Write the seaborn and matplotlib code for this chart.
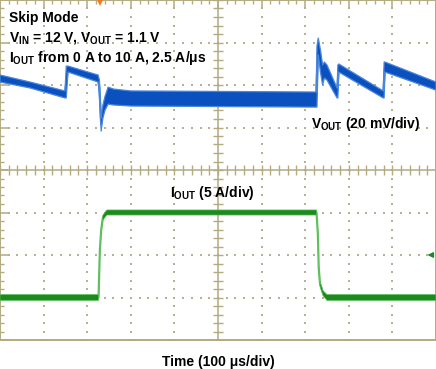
import numpy as np
import pandas as pd
import matplotlib
matplotlib.use("Agg")
import matplotlib.pyplot as plt
import seaborn as sns

# VOUT trace envelope (AC coupled, mV away from 1.1 V), time in microseconds
vout_t = [0, 69, 149, 152, 156, 225, 228, 232, 236, 241, 248, 260, 300, 725, 727,
          730, 735, 740, 744, 750, 773, 775, 777, 879, 881, 883, 1000]
vout_hi = [11.3, 8.0, 3.8, 15.5, 15.5, 11.3, 8.9, -8.9, -2.8, 1.4, 5.6, 4.7, 3.8, 3.3, 25.0,
           28.7, 23.1, 16.0, 17.4, 16.0, 5.2, 16.0, 16.5, 3.8, 17.4, 17.4, 8.0]
vout_lo = [8.0, 5.2, 0.5, 0.5, 12.7, 8.0, 1.9, -15.1, -8.9, -5.2, -2.4, -2.8, -3.3, -3.8, -3.8,
           20.7, 12.7, 6.6, 9.9, 8.9, 0.5, 0.5, 12.7, 0.5, 0.5, 12.7, 4.2]

# IOUT trace envelope in A
iout_t = [0, 226, 229, 232, 236, 245, 726, 729, 731, 734, 741, 750, 1000]
iout_hi = [0.35, 0.35, 5.8, 8.2, 9.7, 10.3, 10.3, 7.8, 3.8, 1.9, 0.8, 0.35, 0.35]
iout_lo = [-0.35, -0.35, 5.2, 7.6, 9.1, 9.7, 9.7, 7.2, 3.2, 1.3, 0.2, -0.35, -0.35]

# scope settings
vout_mv_per_div = 20
vout_zero_div = 5.67
iout_a_per_div = 5
iout_zero_div = 1.0
trigger_t = 230
ch2_marker_div = 2.0

tan = "#b3aa80"
dot = "#b8b195"
blue = "#0a50be"
blue_edge = "#4a86dc"
green = "#1c8a1c"
green_edge = "#62c062"

sns.set_theme(style="white")
plt.rcParams["font.family"] = ["Liberation Sans", "DejaVu Sans"]
plt.rcParams["mathtext.default"] = "regular"

fig = plt.figure(figsize=(4.36, 3.69), dpi=100)
ax = fig.add_axes([0, 29 / 369, 1, 340 / 369])
ax.set_xlim(0, 1000)
ax.set_ylim(0, 8)

# graticule
ax.set_xticks(np.arange(0, 1001, 100))
ax.set_xticks(np.arange(0, 1001, 20), minor=True)
ax.set_yticks(np.arange(0, 8.01, 1))
ax.set_yticks(np.arange(0, 8.01, 0.2), minor=True)
ax.tick_params(which="both", direction="in", top=True, right=True,
               labelbottom=False, labelleft=False, color=tan)
ax.tick_params(which="major", length=5.8, width=1.1)
ax.tick_params(which="minor", length=2.9, width=1.0)
for s in ax.spines.values():
    s.set_color(tan)
    s.set_linewidth(1.4)

minor_x = np.arange(0, 1001, 20)
minor_y = np.arange(0, 8.01, 0.2)
for gx in [100, 200, 300, 400, 600, 700, 800, 900]:
    ax.plot([gx] * len(minor_y), minor_y, ls="none", marker="s", ms=1.5, mew=0, color=dot)
for gy in [1, 2, 3, 5, 6, 7]:
    ax.plot(minor_x, [gy] * len(minor_x), ls="none", marker="s", ms=1.5, mew=0, color=dot)
ax.axvline(500, color=tan, lw=1.1)
ax.axhline(4, color=tan, lw=1.1)
ax.plot(minor_x, [4] * len(minor_x), ls="none", marker="|", ms=6.5, mew=1.0, color=tan)
ax.plot([500] * len(minor_y), minor_y, ls="none", marker="_", ms=6.5, mew=1.0, color=tan)

# channel axes
ax_v = ax.twinx()
ax_v.set_ylim(-vout_zero_div * vout_mv_per_div, (8 - vout_zero_div) * vout_mv_per_div)
ax_v.set_axis_off()
ax_i = ax.twinx()
ax_i.set_ylim(-iout_zero_div * iout_a_per_div, (8 - iout_zero_div) * iout_a_per_div)
ax_i.set_axis_off()

vout = pd.DataFrame({"t": vout_t, "hi": vout_hi, "lo": vout_lo})
vout["mid"] = (vout["hi"] + vout["lo"]) / 2
iout = pd.DataFrame({"t": iout_t, "hi": iout_hi, "lo": iout_lo})
iout["mid"] = (iout["hi"] + iout["lo"]) / 2

sns.lineplot(data=vout, x="t", y="mid", ax=ax_v, color=blue_edge, lw=1.6, zorder=2)
ax_v.fill_between(vout["t"], vout["lo"], vout["hi"], facecolor=blue,
                  edgecolor=blue_edge, lw=0.9, zorder=3)
sns.lineplot(data=iout, x="t", y="mid", ax=ax_i, color=green_edge, lw=1.6, zorder=2)
ax_i.fill_between(iout["t"], iout["lo"], iout["hi"], facecolor=green,
                  edgecolor=green_edge, lw=0.5, zorder=3)
ax_v.set_xlim(0, 1000)
ax_i.set_xlim(0, 1000)

# markers
ax.plot([trigger_t], [8], marker="v", ms=8, color="#f47a22", mew=0, zorder=5)
ax.annotate("", xy=(974, ch2_marker_div), xytext=(1000, ch2_marker_div),
            arrowprops=dict(arrowstyle="-|>", color=green, lw=1.0, mutation_scale=8))

# labels
def label(px, py, s, ha="left"):
    fig.text(px / 436, 1 - py / 369, s, ha=ha, va="baseline",
             fontsize=10, fontweight="bold", color="black")

label(9, 22, "Skip Mode")
label(9, 42, "V$_{IN}$ = 12 V, V$_{OUT}$ = 1.1 V")
label(9, 62, "I$_{OUT}$ from 0 A to 10 A, 2.5 A/μs")
label(311, 128, "V$_{OUT}$ (20 mV/div)")
label(170, 197, "I$_{OUT}$ (5 A/div)")
label(218, 366, "Time (100 μs/div)", ha="center")

fig.savefig("out.png", dpi=100)
plt.close(fig)
